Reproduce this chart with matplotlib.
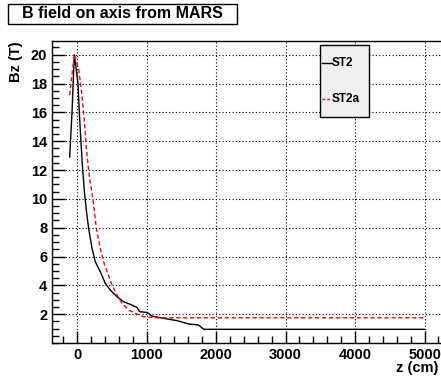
import numpy as np
import matplotlib
matplotlib.use('Agg')
import matplotlib.pyplot as plt
from matplotlib.patches import Rectangle
from matplotlib.lines import Line2D
from matplotlib.ticker import MultipleLocator

# ------------------------------------------------------------------------------
# data
st2_z = [-106, -72, -39, 14, 33, 57, 81, 110, 134, 167, 216, 263, 335, 407, 479,
         575, 671, 767, 863, 901, 1007, 1079, 1246, 1439, 1606, 1750, 1822, 5000]
st2_b = [12.9, 16.0, 20.0, 18.0, 16.0, 13.95, 12.0, 10.3, 9.2, 7.95, 6.56, 5.63,
         4.94, 4.14, 3.67, 3.21, 2.86, 2.68, 2.47, 2.17, 2.12, 1.87, 1.71, 1.55,
         1.32, 1.25, 0.95, 0.95]

st2a_z = [-106, -39, 23, 72, 110, 144, 181, 216, 249, 278, 335, 383, 441, 504,
          575, 647, 743, 863, 959, 1151, 5000]
st2a_b = [17.2, 20.0, 19.0, 17.2, 15.1, 13.0, 11.4, 10.4, 9.2, 7.95, 6.56, 5.63,
          4.83, 4.02, 3.33, 2.75, 2.29, 2.01, 1.82, 1.75, 1.75]

labels = ['ST2', 'ST2a']
title = 'B field on axis from MARS'

# ------------------------------------------------------------------------------
plt.rcParams['font.family'] = ['Liberation Sans', 'DejaVu Sans']
plt.rcParams['font.weight'] = 'bold'

fig = plt.figure(figsize=(4.41, 3.76), dpi=100)
ax = fig.add_axes([52/441, 33/376, 392/441, 302/376])

ax.plot(st2_z, st2_b, color='black', lw=1.0)
ax.plot(st2a_z, st2a_b, color='red', lw=1.0, linestyle=(0, (3, 2)))

ax.set_xlim(-360, 5280)
ax.set_ylim(0, 20.95)
ax.xaxis.set_major_locator(MultipleLocator(1000))
ax.xaxis.set_minor_locator(MultipleLocator(200))
ax.yaxis.set_minor_locator(MultipleLocator(0.5))
ax.set_yticks(np.arange(2, 21, 2))
ax.tick_params(which='both', direction='in', top=False, right=False, labelsize=10.5)
ax.tick_params(which='major', length=9, width=1)
ax.tick_params(which='minor', length=5, width=1)
for lab in ax.get_xticklabels() + ax.get_yticklabels():
    lab.set_fontweight('bold')
ax.grid(True, which='major', color='black', linestyle=(0, (1, 2)), lw=0.8)
ax.spines['right'].set_visible(False)
for s in ax.spines.values():
    s.set_linewidth(1.0)

fig.text(438/441, 1 - 368/376, 'z (cm)', ha='right', va='center', fontsize=10.5, fontweight='bold')
fig.text(16/441, 1 - 41/376, 'Bz (T)', ha='center', va='top', rotation=90, fontsize=10.5, fontweight='bold')

# title box
fig.patches.append(Rectangle((8/441, 1 - 24/376), 229/441, 20/376, transform=fig.transFigure,
                             facecolor='white', edgecolor='black', lw=1.0))
fig.text(122/441, 1 - 14/376, title, ha='center', va='center', fontsize=11.5, fontweight='bold')

# legend box, ROOT style
fig.patches.append(Rectangle((320/441, 1 - 117/376), 49/441, 72/376, transform=fig.transFigure,
                             facecolor='#f0f0f0', edgecolor='black', lw=1.0, zorder=5))
fig.lines.append(Line2D([321.5/441, 331.5/441], [1 - 63/376, 1 - 63/376], transform=fig.transFigure,
                        color='black', lw=1.0, zorder=6))
fig.lines.append(Line2D([321.5/441, 331.5/441], [1 - 99/376, 1 - 99/376], transform=fig.transFigure,
                        color='red', lw=1.0, linestyle=(0, (2, 1.5)), zorder=6))
fig.text(332/441, 1 - 63/376, labels[0], ha='left', va='center', fontsize=8.5, fontweight='bold', zorder=7)
fig.text(332/441, 1 - 99/376, labels[1], ha='left', va='center', fontsize=8.5, fontweight='bold', zorder=7)

fig.savefig('out.png', dpi=100)
